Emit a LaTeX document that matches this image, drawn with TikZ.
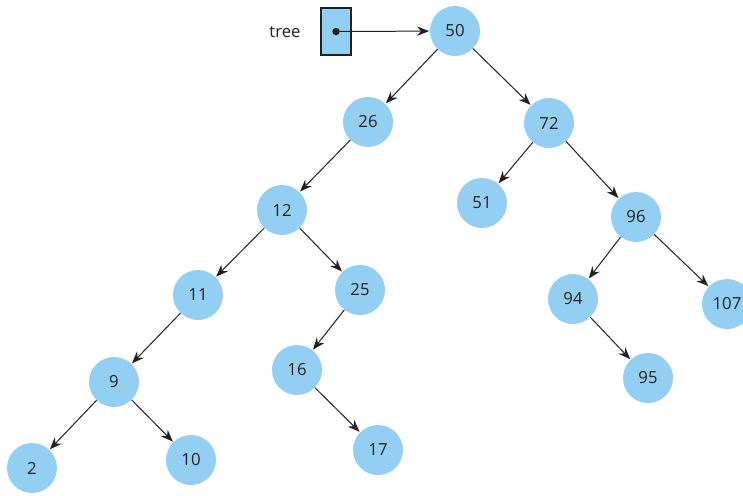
\documentclass[tikz,border=0pt]{standalone}
\usepackage{fontspec}
\setmainfont{Open Sans}
\usetikzlibrary{arrows.meta}
\definecolor{TreeBlue}{HTML}{92CFF3}
\definecolor{TreeInk}{HTML}{231F20}

\begin{document}
\begin{tikzpicture}[
  x=0.75pt, y=-0.75pt,
  tnode/.style={circle, fill=TreeBlue, draw=none, minimum size=37.5pt,
                inner sep=0pt, text=TreeInk, font=\fontsize{12.5}{14}\selectfont},
  ptr/.style={draw=TreeInk, line width=1.4pt, fill=TreeBlue,
              minimum width=22pt, minimum height=35pt, inner sep=0pt},
  arr/.style={-{Stealth[length=9pt, width=7pt, inset=3pt]}, line width=0.75pt,
              draw=TreeInk, shorten >=0.5pt},
  label/.style={text=TreeInk, font=\fontsize{12.5}{14}\selectfont}
]
\useasboundingbox (0,0) rectangle (743,496);

\node[label] (lbl) at (285,32) {tree};
\node[ptr] (root) at (336,31.5) {};
\fill[TreeInk] (root.center) circle (2.8pt);

\node[tnode] (n50) at (455,31) {50};
\node[tnode] (n26) at (368,122) {26};
\node[tnode] (n72) at (549,123) {72};
\node[tnode] (n12) at (282,210) {12};
\node[tnode] (n51) at (482,203) {51};
\node[tnode] (n96) at (636,217) {96};
\node[tnode] (n11) at (198,295) {11};
\node[tnode] (n25) at (360,290) {25};
\node[tnode] (n94) at (573,299) {94};
\node[tnode] (n107) at (727,304) {107};
\node[tnode] (n9) at (114,382) {9};
\node[tnode] (n16) at (297,370) {16};
\node[tnode] (n95) at (648,378) {95};
\node[tnode] (n2) at (32,468) {2};
\node[tnode] (n10) at (191,460) {10};
\node[tnode] (n17) at (378,450) {17};

\draw[arr] (root.center) -- (n50);
\draw[arr] (n50) -- (n26);
\draw[arr] (n50) -- (n72);
\draw[arr] (n26) -- (n12);
\draw[arr] (n72) -- (n51);
\draw[arr] (n72) -- (n96);
\draw[arr] (n12) -- (n11);
\draw[arr] (n12) -- (n25);
\draw[arr] (n96) -- (n94);
\draw[arr] (n96) -- (n107);
\draw[arr] (n11) -- (n9);
\draw[arr] (n25) -- (n16);
\draw[arr] (n94) -- (n95);
\draw[arr] (n9) -- (n2);
\draw[arr] (n9) -- (n10);
\draw[arr] (n16) -- (n17);

\end{tikzpicture}
\end{document}
